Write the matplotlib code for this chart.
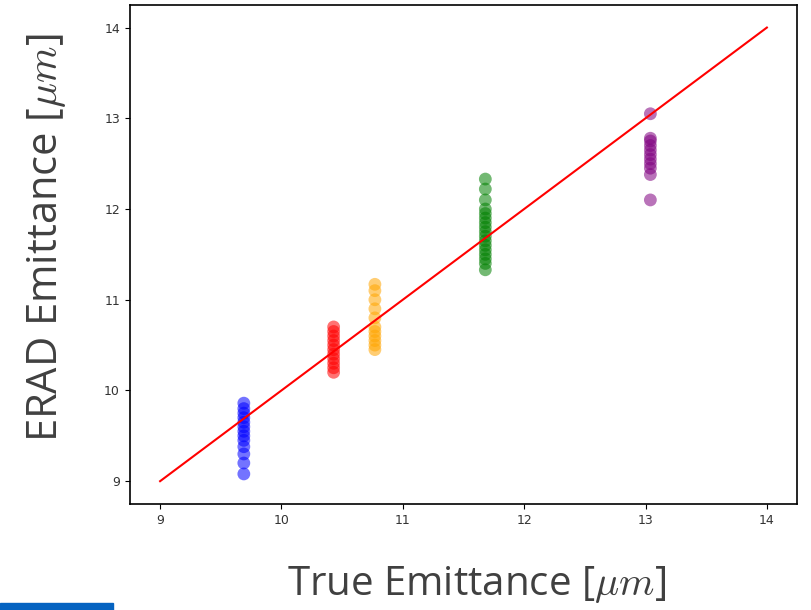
import matplotlib.pyplot as plt
from matplotlib.patches import Rectangle

plt.rcParams['mathtext.fontset'] = 'cm'

# true emittance of each group and the ERAD estimates
true_blue = 9.69
erad_blue = [9.08, 9.2, 9.3, 9.38, 9.45, 9.5, 9.55, 9.6, 9.65, 9.7, 9.75, 9.8, 9.86]
true_red = 10.43
erad_red = [10.2, 10.25, 10.3, 10.35, 10.4, 10.45, 10.5, 10.55, 10.6, 10.65, 10.7]
true_orange = 10.77
erad_orange = [10.45, 10.5, 10.55, 10.6, 10.65, 10.7, 10.8, 10.9, 11.0, 11.1, 11.17]
true_green = 11.68
erad_green = [11.33, 11.4, 11.45, 11.5, 11.55, 11.6, 11.65, 11.7, 11.75, 11.8,
              11.85, 11.9, 11.95, 12.0, 12.1, 12.22, 12.33]
true_purple = 13.04
erad_purple = [12.1, 12.38, 12.45, 12.5, 12.55, 12.6, 12.65, 12.7, 12.75, 12.78, 13.05]

line_x = [9, 14]
line_y = [9, 14]

groups = [
    (true_blue, erad_blue, 'blue'),
    (true_red, erad_red, 'red'),
    (true_orange, erad_orange, 'orange'),
    (true_green, erad_green, 'green'),
    (true_purple, erad_purple, 'purple'),
]

fig = plt.figure(figsize=(8.11, 6.10), dpi=100)
ax = fig.add_axes([0.160, 0.174, 0.823, 0.818])

for tx, ys, c in groups:
    ax.scatter([tx] * len(ys), ys, color=c, alpha=0.55, s=85, edgecolors='none')

ax.plot(line_x, line_y, color='red', linewidth=1.5)

ax.set_xticks([9, 10, 11, 12, 13, 14])
ax.set_yticks([9, 10, 11, 12, 13, 14])
ax.tick_params(labelsize=9, labelcolor='#333333')
for sp in ax.spines.values():
    sp.set_linewidth(1.2)

# slide-style axis labels
fig.text(0.588, 0.041, r'True Emittance [$\mu m$]', ha='center', va='center',
         fontsize=29, family='Open Sans', color='#404040')
fig.text(0.057, 0.611, r'ERAD Emittance [$\mu m$]', ha='center', va='center',
         rotation=90, fontsize=30, family='Open Sans', color='#404040')

# blue bar at the bottom left of the slide
fig.patches.append(Rectangle((0, 0), 0.139, 0.011, transform=fig.transFigure,
                             color='#0563C1', zorder=5))

fig.savefig('out.png', dpi=100)
